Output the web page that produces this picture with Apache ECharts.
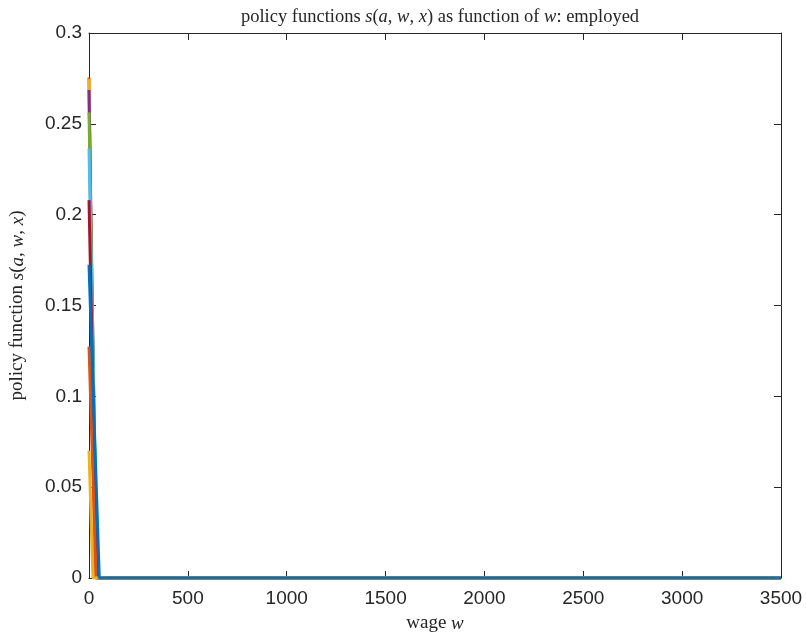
<!DOCTYPE html>
<html>
<head>
<meta charset="utf-8">
<script src="https://cdn.jsdelivr.net/npm/echarts@6/dist/echarts.min.js"></script>
<style>
  html, body { margin: 0; padding: 0; background: #fff; }
  #chart { width: 806px; height: 638px; }
</style>
</head>
<body>
<div id="chart"></div>
<script>
// Savings policy s(a, w, x) against the wage, one line per state, employed workers
const xTicks = [0, 500, 1000, 1500, 2000, 2500, 3000, 3500];
const yTicks = [0, 0.05, 0.1, 0.15, 0.2, 0.25, 0.3];

// value of the policy at w = 0 for each line (in drawing order)
const policyAtZero = [0.2755, 0.2746, 0.2686, 0.2563, 0.2364, 0.2080, 0.1274, 0.0700, 0.1724];
// wage at which each policy line reaches zero
const wageAtZero   = [30, 32, 38, 40, 41, 40, 36, 20, 52];
// upper end of the wage grid
const wageMax = 3500;
// line colours, MATLAB default palette
const lineColors = ['#D95319', '#EDB120', '#7E2F8E', '#77AC30', '#4DBEEE', '#A2142F', '#D95319', '#EDB120', '#0072BD'];

const axisColor = '#262626';
const sansFont = '"Liberation Sans", Arial, Helvetica, sans-serif';
const serifFont = '"Liberation Serif", "DejaVu Serif", "Times New Roman", serif';

const series = policyAtZero.map((v, i) => ({
  type: 'line',
  xAxisIndex: 0,
  yAxisIndex: 0,
  data: [[0, v], [wageAtZero[i], 0], [wageMax, 0]],
  showSymbol: false,
  symbol: 'none',
  animation: false,
  lineStyle: { color: lineColors[i], width: 3 },
  itemStyle: { color: lineColors[i] }
}));

const chart = echarts.init(document.getElementById('chart'), null, { renderer: 'canvas' });

function mathRich(size) {
  return {
    n: { fontFamily: serifFont, fontSize: size, fontWeight: 'normal', color: axisColor },
    i: { fontFamily: serifFont, fontSize: size, fontWeight: 'normal', fontStyle: 'italic', color: axisColor }
  };
}

function frameAxis(extra) {
  return Object.assign({
    type: 'value',
    axisLine: { show: true, onZero: false, lineStyle: { color: axisColor, width: 1 } },
    axisTick: { show: true, inside: true, length: 7, lineStyle: { color: axisColor } },
    splitLine: { show: false }
  }, extra);
}

chart.setOption({
  animation: false,
  backgroundColor: '#ffffff',
  title: {
    text: '{n|policy functions }{i|s}{n|(}{i|a}{n|, }{i|w}{n|, }{i|x}{n|) as function of }{i|w}{n|: employed}',
    left: 435,
    top: 3,
    textAlign: 'center',
    textStyle: { fontWeight: 'normal', rich: mathRich(18.5) }
  },
  grid: {
    left: 86, right: 25, top: 33, bottom: 58,
    show: false
  },
  xAxis: [frameAxis({
    min: 0, max: 3500, interval: 500,
    position: 'bottom',
    name: '{n|wage }{i|w}',
    nameLocation: 'middle',
    nameGap: 36,
    nameTextStyle: { rich: mathRich(19) },
    axisLabel: {
      show: true, margin: 11, color: axisColor, fontFamily: sansFont, fontSize: 19,
      formatter: v => (xTicks.includes(v) ? String(v) : '')
    }
  }), frameAxis({
    min: 0, max: 3500, interval: 500,
    position: 'top',
    axisLabel: { show: false }
  })],
  yAxis: [frameAxis({
    min: 0, max: 0.3, interval: 0.05,
    position: 'left',
    name: '{n|policy function }{i|s}{n|(}{i|a}{n|, }{i|w}{n|, }{i|x}{n|)}',
    nameLocation: 'middle',
    nameGap: 62,
    nameRotate: 90,
    nameTextStyle: { rich: mathRich(19) },
    axisLabel: {
      show: true, margin: 7, color: axisColor, fontFamily: sansFont, fontSize: 19,
      formatter: v => {
        const t = yTicks.find(y => Math.abs(y - v) < 1e-9);
        return t === undefined ? '' : String(t);
      }
    }
  }), frameAxis({
    min: 0, max: 0.3, interval: 0.05,
    position: 'right',
    axisLabel: { show: false }
  })],
  series: series
});
</script>
</body>
</html>
